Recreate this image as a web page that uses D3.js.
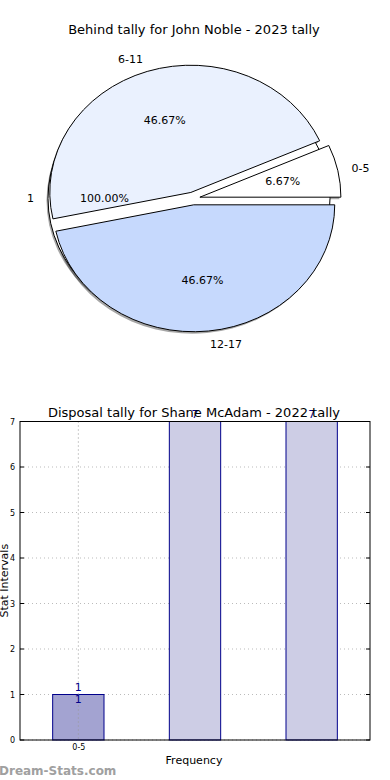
<!DOCTYPE html>
<html><head><meta charset="utf-8">
<script src="https://cdn.jsdelivr.net/npm/d3@7"></script>
<style>body{margin:0;background:#fff}svg{display:block;font-family:"DejaVu Sans",sans-serif}</style>
</head><body><svg id="c" width="390" height="780"></svg>
<script>
// Pie data
const pieTitle = "Behind tally for John Noble - 2023 tally";
const pieLabels = ["0-5", "6-11", "12-17"];
const pieValues = [1, 7, 7];
const pieColors = ["#ffffff", "#eaf1fe", "#c6d9fd"];
const bgLabel = "1";
const bgValues = [1];
const bgPctLabel = "100.00%";

// Bar data
const barTitle = "Disposal tally for Shane McAdam - 2022 tally";
const barCats = ["0-5", "6-11", "12-17"];
const barValues = [1, 7, 7];
const barTickLabels = ["0-5", "", ""];
const barColors = ["#a3a3d1", "#cdcde5", "#cdcde5"];
const yTicks = [0, 1, 2, 3, 4, 5, 6, 7];

const svg = d3.select("#c");

// ---------- PIE ----------
const cx = 193, cy = 198.5, rx = 141, ry = 127, explode = 0.05;
svg.append("text").attr("x", 194).attr("y", 34).attr("text-anchor", "middle")
  .attr("font-size", 13).text(pieTitle);

const pie = d3.pie().sort(null).value(d => d).startAngle(Math.PI / 2).endAngle(Math.PI / 2 - 2 * Math.PI);
const arcs = pie(pieValues);
const unitArc = d3.arc().innerRadius(0).outerRadius(1);
const total = d3.sum(pieValues);

function midTheta(a) { return Math.PI / 2 - (a.startAngle + a.endAngle) / 2; }
function pt(ox, oy, th, f) { return [ox + f * rx * Math.cos(th), oy - f * ry * Math.sin(th)]; }

const gPie = svg.append("g");
const bgArcs = d3.pie().sort(null).value(d => d)(bgValues);
const bcx = 189, bcy = 198.5;
const sdx = -1.5, sdy = 2, sop = 0.35;
gPie.append("ellipse").attr("cx", bcx + sdx).attr("cy", bcy + sdy).attr("rx", rx).attr("ry", ry)
  .attr("fill", "#000").attr("opacity", sop);
arcs.forEach((a) => {
  const th = midTheta(a);
  const [ox, oy] = pt(cx, cy, th, explode);
  gPie.append("path").attr("d", unitArc(a))
    .attr("transform", `translate(${ox + sdx},${oy + sdy}) scale(${rx},${ry})`)
    .attr("fill", "#000").attr("opacity", sop);
});
bgArcs.forEach(a => {
  gPie.append("path").attr("d", unitArc(a))
    .attr("transform", `translate(${bcx},${bcy}) scale(${rx},${ry})`)
    .attr("fill", "#fff").attr("stroke", "#000").attr("stroke-width", 1)
    .attr("vector-effect", "non-scaling-stroke");
});
arcs.forEach((a, i) => {
  const th = midTheta(a);
  const [ox, oy] = pt(cx, cy, th, explode);
  gPie.append("path").attr("d", unitArc(a))
    .attr("transform", `translate(${ox},${oy}) scale(${rx},${ry})`)
    .attr("fill", pieColors[i]).attr("stroke", "#000").attr("stroke-width", 1)
    .attr("stroke-linejoin", "round")
    .attr("vector-effect", "non-scaling-stroke");
});
arcs.forEach((a, i) => {
  const th = midTheta(a);
  const [ox, oy] = pt(cx, cy, th, explode);
  const [lx, ly] = pt(ox, oy, th, 1.1);
  gPie.append("text").attr("x", lx).attr("y", ly).attr("dy", "0.35em")
    .attr("text-anchor", Math.cos(th) < 0 ? "end" : "start").attr("font-size", 11)
    .text(pieLabels[i]);
  const [px, py] = pt(ox, oy, th, 0.6);
  gPie.append("text").attr("x", px).attr("y", py).attr("dy", "0.35em")
    .attr("text-anchor", "middle").attr("font-size", 11)
    .text((pieValues[i] / total * 100).toFixed(2) + "%");
});
{
  const th = Math.PI;
  const [lx, ly] = pt(bcx, bcy, th, 1.1);
  gPie.append("text").attr("x", lx).attr("y", ly).attr("dy", "0.35em")
    .attr("text-anchor", "end").attr("font-size", 11).text(bgLabel);
  const [px, py] = pt(bcx, bcy, th, 0.6);
  gPie.append("text").attr("x", px).attr("y", py).attr("dy", "0.35em")
    .attr("text-anchor", "middle").attr("font-size", 11).text(bgPctLabel);
}

// ---------- BAR ----------
const L = 20, R = 370, T = 421.5, B = 740;
const x = d3.scaleLinear().domain([-0.5, barCats.length - 0.5]).range([L, R]);
const y = d3.scaleLinear().domain([0, 7]).range([B, T]);
const bw = 0.44;
const gB = svg.append("g");

gB.selectAll(".hg").data(yTicks).join("line")
  .attr("x1", L).attr("x2", R).attr("y1", d => y(d)).attr("y2", d => y(d))
  .attr("stroke", "#bbbbbb").attr("stroke-dasharray", "1,3").attr("stroke-width", 1);

gB.selectAll(".bar").data(barValues).join("rect")
  .attr("x", (d, i) => x(i - bw / 2)).attr("width", x(bw) - x(0))
  .attr("y", d => y(d)).attr("height", d => y(0) - y(d))
  .attr("fill", (d, i) => barColors[i]).attr("stroke", "#00008b").attr("stroke-width", 1);

gB.append("line").attr("x1", x(0)).attr("x2", x(0)).attr("y1", T).attr("y2", B)
  .attr("stroke", "#999999").attr("stroke-dasharray", "1,3").attr("stroke-width", 1);

gB.append("rect").attr("x", L).attr("y", T).attr("width", R - L).attr("height", B - T)
  .attr("fill", "none").attr("stroke", "#000").attr("stroke-width", 1);

const yAxis = d3.axisLeft(y).tickValues(yTicks).tickFormat(d3.format("d")).tickSize(0).tickPadding(5);
const ya = gB.append("g").attr("transform", `translate(${L},0)`).call(yAxis);
ya.select(".domain").remove();
ya.selectAll("text").attr("font-size", 8).attr("font-family", "DejaVu Sans");
gB.selectAll(".ytl").data(yTicks).join("line")
  .attr("x1", L).attr("x2", L + 4).attr("y1", d => y(d)).attr("y2", d => y(d)).attr("stroke", "#000");
gB.selectAll(".ytr").data(yTicks).join("line")
  .attr("x1", R - 4).attr("x2", R).attr("y1", d => y(d)).attr("y2", d => y(d)).attr("stroke", "#000");

const xAxis = d3.axisBottom(x).tickValues([0]).tickFormat(i => barTickLabels[i]).tickSize(0).tickPadding(4);
const xa = gB.append("g").attr("transform", `translate(0,${B})`).call(xAxis);
xa.select(".domain").remove();
xa.selectAll("text").attr("font-size", 8).attr("font-family", "DejaVu Sans");

svg.append("text").attr("x", 194).attr("y", 417).attr("text-anchor", "middle")
  .attr("font-size", 13).text(barTitle);

const yMax = y.domain()[1];
barValues.forEach((v, i) => {
  gB.append("text").attr("x", x(i)).attr("y", y(v) - 4).attr("text-anchor", "middle")
    .attr("font-size", 11).attr("fill", "#00008b").text(v);
  if (v < yMax) {
    gB.append("text").attr("x", x(i)).attr("y", y(v) + 8).attr("text-anchor", "middle")
      .attr("font-size", 11).attr("fill", "#00008b").text(v);
  }
});

svg.append("text").attr("transform", `translate(8,${(T + B) / 2}) rotate(-90)`)
  .attr("text-anchor", "middle").attr("font-size", 11).text("Stat Intervals");
svg.append("text").attr("x", 194).attr("y", 764).attr("text-anchor", "middle")
  .attr("font-size", 11).text("Frequency");
svg.append("text").attr("x", -1).attr("y", 775).attr("font-size", 12).attr("font-weight", "bold")
  .attr("fill", "#a0a0a0").text("Dream-Stats.com");
</script></body></html>
